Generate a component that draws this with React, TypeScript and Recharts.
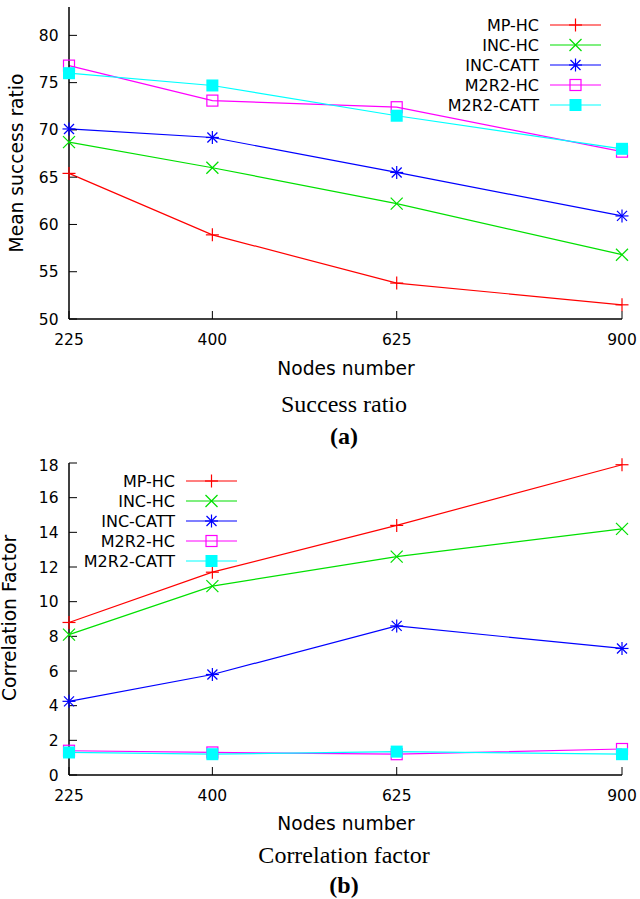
import React from 'react';
import { LineChart, Line, XAxis, YAxis, Legend } from 'recharts';

// x positions (number of nodes)
const nodes = [225, 400, 625, 900];

// (a) mean success ratio
const successMpHc = [65.4, 58.9, 53.8, 51.5];
const successIncHc = [68.7, 66.0, 62.2, 56.8];
const successIncCatt = [70.1, 69.2, 65.5, 60.9];
const successM2r2Hc = [76.8, 73.1, 72.4, 67.7];
const successM2r2Catt = [76.0, 74.7, 71.5, 68.0];
const successTicks = [50, 55, 60, 65, 70, 75, 80];

// (b) correlation factor
const corrMpHc = [8.8, 11.7, 14.4, 17.9];
const corrIncHc = [8.1, 10.9, 12.6, 14.2];
const corrIncCatt = [4.25, 5.8, 8.6, 7.3];
const corrM2r2Hc = [1.4, 1.3, 1.2, 1.5];
const corrM2r2Catt = [1.3, 1.2, 1.35, 1.2];
const corrTicks = [0, 2, 4, 6, 8, 10, 12, 14, 16, 18];

const seriesNames = ['MP-HC', 'INC-HC', 'INC-CATT', 'M2R2-HC', 'M2R2-CATT'];
const seriesKeys = ['mpHc', 'incHc', 'incCatt', 'm2r2Hc', 'm2r2Catt'];
const COLORS = ['#ff0000', '#00e000', '#0000ff', '#ff00ff', '#00ffff'];
const SHAPES = ['plus', 'cross', 'star', 'square', 'fsquare'];

const SANS = '"DejaVu Sans", sans-serif';
const SERIF = '"Liberation Serif", "Times New Roman", serif';

const buildRows = (cols: number[][]) =>
  nodes.map((n, i) => {
    const row: Record<string, number> = { nodes: n };
    seriesKeys.forEach((k, s) => {
      row[k] = cols[s][i];
    });
    return row;
  });

const successData = buildRows([successMpHc, successIncHc, successIncCatt, successM2r2Hc, successM2r2Catt]);
const corrData = buildRows([corrMpHc, corrIncHc, corrIncCatt, corrM2r2Hc, corrM2r2Catt]);

const Marker = ({ shape, x, y, color }: { shape: string; x: number; y: number; color: string }) => {
  const sw = 1.2;
  if (shape === 'plus') {
    return (
      <g stroke={color} strokeWidth={sw}>
        <line x1={x - 6.5} x2={x + 6.5} y1={y} y2={y} />
        <line x1={x} x2={x} y1={y - 6.5} y2={y + 6.5} />
      </g>
    );
  }
  if (shape === 'cross') {
    return (
      <g stroke={color} strokeWidth={sw}>
        <line x1={x - 6} x2={x + 6} y1={y - 6} y2={y + 6} />
        <line x1={x - 6} x2={x + 6} y1={y + 6} y2={y - 6} />
      </g>
    );
  }
  if (shape === 'star') {
    return (
      <g stroke={color} strokeWidth={sw}>
        <line x1={x - 6.5} x2={x + 6.5} y1={y} y2={y} />
        <line x1={x} x2={x} y1={y - 6.5} y2={y + 6.5} />
        <line x1={x - 5} x2={x + 5} y1={y - 5} y2={y + 5} />
        <line x1={x - 5} x2={x + 5} y1={y + 5} y2={y - 5} />
      </g>
    );
  }
  if (shape === 'square') {
    return <rect x={x - 5.5} y={y - 5.5} width={11} height={11} fill="none" stroke={color} strokeWidth={sw} />;
  }
  return <rect x={x - 6} y={y - 6} width={12} height={12} fill={color} />;
};

const renderLegend = (props: any) => {
  // keep the plotting order, not the legend's alphabetical one
  const payload = [...(props.payload || [])].sort(
    (a: any, b: any) => seriesKeys.indexOf(a.dataKey) - seriesKeys.indexOf(b.dataKey)
  );
  return (
    <svg width={170} height={110} style={{ display: 'block' }}>
      {payload.map((entry: any, i: number) => {
        const idx = seriesKeys.indexOf(entry.dataKey);
        const y = 15 + i * 20;
        return (
          <g key={entry.dataKey}>
            <text x={99} y={y} dy="0.36em" textAnchor="end" fontFamily={SANS} fontSize={16} fill="#000">
              {entry.value}
            </text>
            <line x1={110} x2={161} y1={y} y2={y} stroke={COLORS[idx]} strokeWidth={1.2} />
            <Marker shape={SHAPES[idx]} x={135.5} y={y} color={COLORS[idx]} />
          </g>
        );
      })}
    </svg>
  );
};

interface PanelProps {
  data: Record<string, number>[];
  domain: [number, number];
  ticks: number[];
  legendLeft: number;
}

const Panel: React.FC<PanelProps> = ({ data, domain, ticks, legendLeft }) => {
  const tickStyle = { fill: '#000', fontSize: 15.5, fontFamily: SANS };
  const axisLine = { stroke: '#000', strokeWidth: 1.5 };
  const tickLine = { stroke: '#000', strokeWidth: 1 };
  return (
    <LineChart width={640} height={360} data={data} margin={{ top: 7, right: 18, left: 0, bottom: 0 }}>
      <XAxis
        dataKey="nodes"
        type="number"
        domain={[225, 900]}
        ticks={nodes}
        height={41}
        tickSize={-8}
        tickMargin={23}
        tick={tickStyle}
        axisLine={axisLine}
        tickLine={tickLine}
      />
      <XAxis
        xAxisId="top"
        orientation="top"
        dataKey="nodes"
        type="number"
        domain={[225, 900]}
        ticks={nodes}
        height={0}
        tickSize={-8}
        tick={false}
        axisLine={axisLine}
        tickLine={tickLine}
      />
      <YAxis
        type="number"
        domain={domain}
        ticks={ticks}
        width={69}
        tickSize={-8}
        tickMargin={18.5}
        tick={tickStyle}
        axisLine={axisLine}
        tickLine={tickLine}
      />
      <YAxis
        yAxisId="right"
        orientation="right"
        type="number"
        domain={domain}
        ticks={ticks}
        width={0}
        tickSize={-8}
        tick={false}
        axisLine={axisLine}
        tickLine={tickLine}
      />
      <Legend
        layout="vertical"
        verticalAlign="middle"
        align="center"
        wrapperStyle={{ position: 'absolute', left: legendLeft, top: 10, width: 170, height: 110 }}
        content={renderLegend}
      />
      {seriesKeys.map((k, s) => (
        <Line
          key={k}
          dataKey={k}
          name={seriesNames[s]}
          stroke={COLORS[s]}
          strokeWidth={1.2}
          isAnimationActive={false}
          dot={(p: any) => <Marker key={`${k}-${p.index}`} shape={SHAPES[s]} x={p.cx} y={p.cy} color={COLORS[s]} />}
          activeDot={false}
        />
      ))}
    </LineChart>
  );
};

const centered = (cx: number, cy: number, extra: React.CSSProperties): React.CSSProperties => ({
  position: 'absolute',
  left: cx,
  top: cy,
  whiteSpace: 'nowrap',
  lineHeight: 1,
  color: '#000',
  ...extra,
});

export default function App() {
  const axisTitle = { fontFamily: SANS, fontSize: 18.7, transform: 'translate(-50%, -50%)' };
  const caption = { fontFamily: SERIF, fontSize: 24, transform: 'translate(-50%, -50%)' };
  return (
    <div style={{ position: 'absolute', left: 0, top: 0, width: 640, height: 899, background: '#fff', overflow: 'hidden' }}>
      <div style={{ position: 'absolute', left: 0, top: 0 }}>
        <Panel data={successData} domain={[50, 83]} ticks={successTicks} legendLeft={440} />
      </div>
      <div style={{ position: 'absolute', left: 0, top: 456 }}>
        <Panel data={corrData} domain={[0, 18]} ticks={corrTicks} legendLeft={76} />
      </div>

      <div style={centered(17, 163, { ...axisTitle, transform: 'translate(-50%, -50%) rotate(-90deg)' })}>Mean success ratio</div>
      <div style={centered(346, 369, axisTitle)}>Nodes number</div>
      <div style={centered(344, 404, caption)}>Success ratio</div>
      <div style={centered(344, 436, { ...caption, fontWeight: 'bold' })}>(a)</div>

      <div style={centered(10, 618, { ...axisTitle, transform: 'translate(-50%, -50%) rotate(-90deg)' })}>Correlation Factor</div>
      <div style={centered(346, 824, axisTitle)}>Nodes number</div>
      <div style={centered(344, 855, caption)}>Correlation factor</div>
      <div style={centered(344, 885, { ...caption, fontWeight: 'bold' })}>(b)</div>
    </div>
  );
}
